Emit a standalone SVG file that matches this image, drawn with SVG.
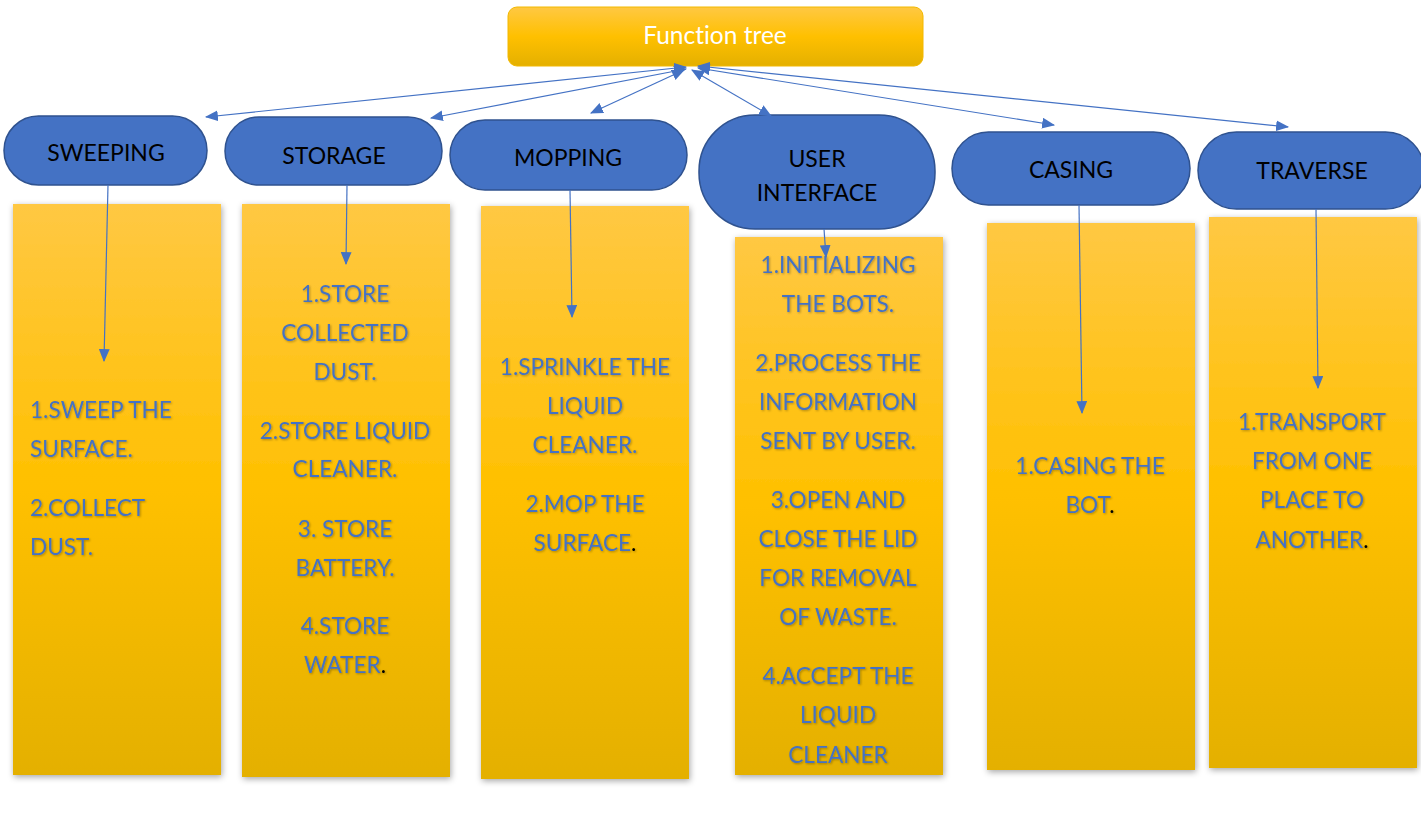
<svg xmlns="http://www.w3.org/2000/svg" width="1421" height="814" viewBox="0 0 1421 814">
<defs>
<linearGradient id="gy" x1="0" y1="0" x2="0" y2="1">
<stop offset="0" stop-color="#FFC843"/>
<stop offset="0.5" stop-color="#FFC000"/>
<stop offset="1" stop-color="#E4B000"/>
</linearGradient>
<filter id="sh" x="-10%" y="-5%" width="120%" height="110%">
<feDropShadow dx="1" dy="2" stdDeviation="3" flood-color="#000" flood-opacity="0.35"/>
</filter>
<filter id="tsh" x="-5%" y="-20%" width="110%" height="140%">
<feDropShadow dx="1" dy="1" stdDeviation="1" flood-color="#000" flood-opacity="0.3"/>
</filter>
<marker id="ah" viewBox="0 0 12 10" refX="11" refY="5" markerWidth="13" markerHeight="11" markerUnits="userSpaceOnUse" orient="auto-start-reverse">
<path d="M0,0 L12,5 L0,10 Z" fill="#4472C4"/>
</marker>
</defs>
<style>
text{font-variant-ligatures:none}
.pill{fill:#4472C4;stroke:#2F528F;stroke-width:1.5}
.pt{font-family:Lato,"Liberation Sans",sans-serif;font-size:23px;fill:#000;text-anchor:middle}
.box{fill:url(#gy);filter:url(#sh)}
.bt{font-family:Lato,"Liberation Sans",sans-serif;font-size:22.6px;fill:#4472C4;filter:url(#tsh)}
.c{text-anchor:middle}
.dot{fill:#000}
.ln{stroke:#4472C4;stroke-width:1.2;fill:none}
</style>
<rect width="1421" height="814" fill="#fff"/>

<g id="root">
<rect x="508" y="7" width="415" height="59" rx="9" fill="url(#gy)" stroke="#F2B800" stroke-width="1"/>
<text x="715" y="44" font-family="Lato,'Liberation Sans',sans-serif" font-size="24.5" fill="#fff" text-anchor="middle">Function tree</text>
</g>

<g id="sweeping">
<rect class="pill" x="4" y="116" width="203" height="69" rx="34.5"/>
<text class="pt" x="106" y="161">SWEEPING</text>
<rect class="box" x="13" y="204" width="208" height="571"/>
<text class="bt" x="30"><tspan x="30" y="418">1.SWEEP THE</tspan><tspan x="30" y="457">SURFACE.</tspan><tspan x="30" y="516">2.COLLECT</tspan><tspan x="30" y="555">DUST.</tspan></text>
</g>

<g id="storage">
<rect class="pill" x="225" y="117" width="217" height="68" rx="34"/>
<text class="pt" x="334" y="164">STORAGE</text>
<rect class="box" x="242" y="204" width="208" height="573"/>
<text class="bt c"><tspan x="345" y="302">1.STORE</tspan><tspan x="345" y="341">COLLECTED</tspan><tspan x="345" y="380">DUST.</tspan><tspan x="345" y="439">2.STORE LIQUID</tspan><tspan x="345" y="477">CLEANER.</tspan><tspan x="345" y="537">3. STORE</tspan><tspan x="345" y="576">BATTERY.</tspan><tspan x="345" y="634">4.STORE</tspan><tspan x="345" y="673">WATER<tspan class="dot">.</tspan></tspan></text>
</g>

<g id="mopping">
<rect class="pill" x="450" y="120" width="237" height="70" rx="35"/>
<text class="pt" x="568" y="166">MOPPING</text>
<rect class="box" x="481" y="206" width="208" height="573"/>
<text class="bt c"><tspan x="585" y="375">1.SPRINKLE THE</tspan><tspan x="585" y="414">LIQUID</tspan><tspan x="585" y="453">CLEANER.</tspan><tspan x="585" y="512">2.MOP THE</tspan><tspan x="585" y="551">SURFACE<tspan class="dot">.</tspan></tspan></text>
</g>

<g id="user-interface">
<rect class="pill" x="699" y="115" width="236" height="114" rx="56"/>
<text class="pt"><tspan x="817" y="167">USER</tspan><tspan x="817" y="201">INTERFACE</tspan></text>
<rect class="box" x="735" y="237" width="208" height="538"/>
<text class="bt c"><tspan x="838" y="273">1.INITIALIZING</tspan><tspan x="838" y="312">THE BOTS.</tspan><tspan x="838" y="371">2.PROCESS THE</tspan><tspan x="838" y="410">INFORMATION</tspan><tspan x="838" y="449">SENT BY USER.</tspan><tspan x="838" y="508">3.OPEN AND</tspan><tspan x="838" y="547">CLOSE THE LID</tspan><tspan x="838" y="586">FOR REMOVAL</tspan><tspan x="838" y="625">OF WASTE.</tspan><tspan x="838" y="684">4.ACCEPT THE</tspan><tspan x="838" y="723">LIQUID</tspan><tspan x="838" y="763">CLEANER</tspan></text>
</g>

<g id="casing">
<rect class="pill" x="952" y="132" width="238" height="73" rx="36.5"/>
<text class="pt" x="1071" y="178">CASING</text>
<rect class="box" x="987" y="223" width="208" height="547"/>
<text class="bt c"><tspan x="1090" y="474">1.CASING THE</tspan><tspan x="1090" y="513">BOT<tspan class="dot">.</tspan></tspan></text>
</g>

<g id="traverse">
<rect class="pill" x="1198" y="132" width="226" height="77" rx="38.5"/>
<text class="pt" x="1312" y="179">TRAVERSE</text>
<rect class="box" x="1209" y="217" width="208" height="551"/>
<text class="bt c"><tspan x="1312" y="430">1.TRANSPORT</tspan><tspan x="1312" y="469">FROM ONE</tspan><tspan x="1312" y="508">PLACE TO</tspan><tspan x="1312" y="548">ANOTHER<tspan class="dot">.</tspan></tspan></text>
</g>

<g id="connectors">
<line class="ln" x1="686" y1="67" x2="206" y2="117" marker-start="url(#ah)" marker-end="url(#ah)"/>
<line class="ln" x1="686" y1="69" x2="431" y2="118" marker-start="url(#ah)" marker-end="url(#ah)"/>
<line class="ln" x1="684" y1="70" x2="591" y2="113" marker-start="url(#ah)" marker-end="url(#ah)"/>
<line class="ln" x1="692" y1="70" x2="771" y2="116" marker-start="url(#ah)" marker-end="url(#ah)"/>
<line class="ln" x1="698" y1="68" x2="1054" y2="125" marker-start="url(#ah)" marker-end="url(#ah)"/>
<line class="ln" x1="698" y1="66" x2="1288" y2="127" marker-start="url(#ah)" marker-end="url(#ah)"/>
<line class="ln" x1="108" y1="185" x2="104" y2="361" marker-end="url(#ah)"/>
<line class="ln" x1="347" y1="185" x2="346" y2="264" marker-end="url(#ah)"/>
<line class="ln" x1="570" y1="190" x2="572" y2="317" marker-end="url(#ah)"/>
<line class="ln" x1="824" y1="229" x2="826" y2="257" marker-end="url(#ah)"/>
<line class="ln" x1="1079" y1="205" x2="1082" y2="413" marker-end="url(#ah)"/>
<line class="ln" x1="1316" y1="209" x2="1318" y2="388" marker-end="url(#ah)"/>
</g>
</svg>
